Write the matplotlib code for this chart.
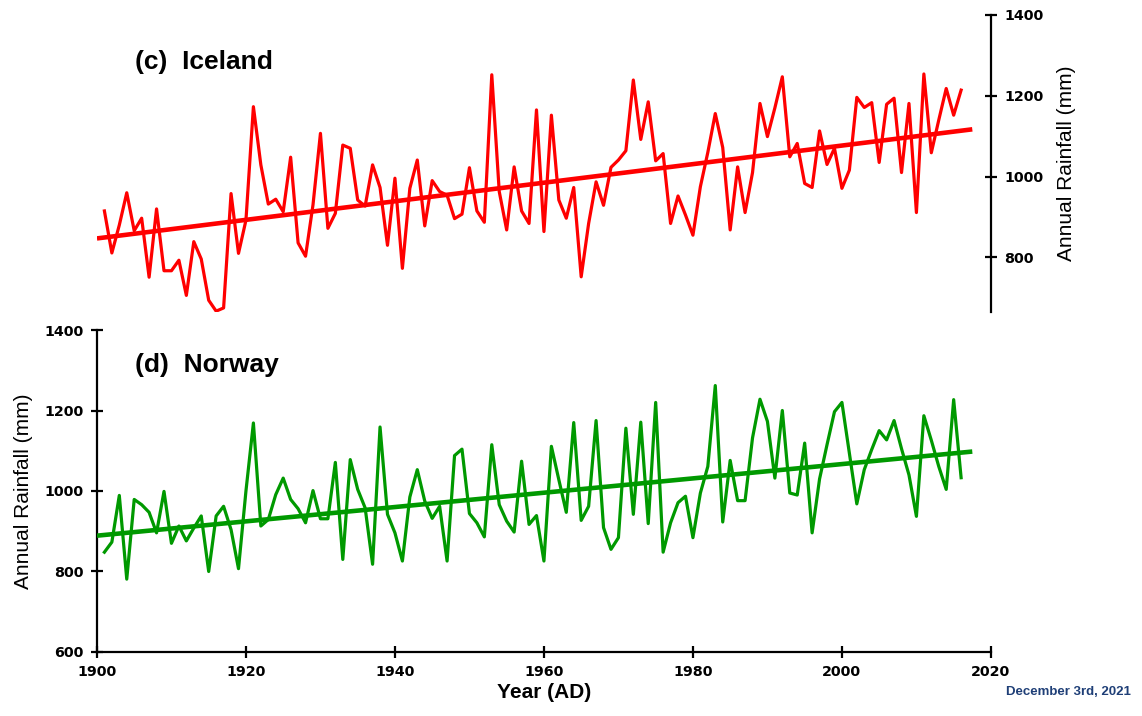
import numpy as np
import matplotlib
matplotlib.use("Agg")
import matplotlib.pyplot as plt

# Annual rainfall series, 1901-2016
years = list(range(1901, 2017))

iceland_mm = [
    915, 811, 880, 960, 866, 897, 751, 920, 767, 767,
    793, 706, 839, 796, 694, 667, 675, 958, 810, 892,
    1173, 1029, 932, 944, 913, 1048, 836, 803, 930, 1107,
    872, 909, 1078, 1070, 942, 927, 1029, 973, 830, 996,
    773, 971, 1041, 878, 990, 963, 954, 896, 907, 1022,
    915, 887, 1252, 963, 868, 1024, 915, 884, 1165, 864,
    1152, 942, 897, 973, 752, 884, 987, 929, 1023, 1041,
    1064, 1239, 1092, 1185, 1039, 1057, 884, 952, 905, 855,
    975, 1060, 1156, 1072, 868, 1024, 911, 1010, 1181, 1099,
    1170, 1247, 1049, 1082, 983, 973, 1113, 1030, 1070, 971,
    1016, 1196, 1171, 1183, 1035, 1179, 1194, 1010, 1181, 911,
    1254, 1059, 1140, 1218, 1152, 1214,
]

norway_mm = [
    848, 873, 989, 781, 979, 966, 947, 896, 999, 870,
    913, 876, 908, 938, 800, 938, 962, 904, 807, 1000,
    1169, 913, 929, 991, 1032, 979, 956, 921, 1001, 931,
    931, 1071, 830, 1078, 1004, 958, 818, 1159, 942, 896,
    826, 985, 1053, 975, 932, 962, 826, 1088, 1104, 944,
    921, 886, 1115, 966, 925, 898, 1074, 917, 939, 826,
    1111, 1028, 947, 1170, 927, 962, 1175, 909, 855, 884,
    1156, 942, 1171, 919, 1220, 848, 921, 971, 987, 884,
    995, 1061, 1262, 923, 1076, 976, 976, 1132, 1228, 1173,
    1032, 1200, 995, 990, 1119, 896, 1030, 1115, 1197, 1220,
    1094, 968, 1053, 1103, 1150, 1127, 1175, 1105, 1040, 937,
    1187, 1126, 1061, 1004, 1227, 1033,
]

# Linear trends: start and end values over trend_span
trend_span = [1900, 2017.5]
iceland_trend = [847, 1117]
norway_trend = [889, 1098]

year_ticks = [1900, 1920, 1940, 1960, 1980, 2000, 2020]
rain_ticks = [600, 800, 1000, 1200, 1400]

RED = "#FF0000"
GREEN = "#009900"
TICK_FONT = {"family": "DejaVu Sans", "weight": "bold", "size": 10.3}
LABEL_FONT = "Liberation Sans"

fig = plt.figure(figsize=(11.42, 7.16), dpi=100)
fig.patch.set_facecolor("white")

# ── (c) Iceland: right-hand axis only ───────────────────────────────────────
ax_top = fig.add_axes([0.0849, 0.5643, 0.7828, 0.4148])
ax_top.patch.set_alpha(0)
ax_top.plot(years, iceland_mm, color=RED, lw=2.3, zorder=2)
ax_top.plot(trend_span, iceland_trend, color=RED, lw=3.3,
            solid_capstyle="butt", zorder=3)

ax_top.set_xlim(1900, 2020)
ax_top.set_ylim(665, 1400)
for side in ["top", "left", "bottom"]:
    ax_top.spines[side].set_visible(False)
ax_top.spines["right"].set_linewidth(1.6)
ax_top.xaxis.set_visible(False)
ax_top.yaxis.tick_right()
ax_top.yaxis.set_label_position("right")
ax_top.set_yticks(rain_ticks[1:])
ax_top.set_yticklabels([str(v) for v in rain_ticks[1:]], fontdict=TICK_FONT)
ax_top.tick_params(axis="y", direction="inout", length=9, width=1.6, pad=5)
ax_top.set_ylabel("Annual Rainfall (mm)", family=LABEL_FONT, fontsize=15,
                  labelpad=10)

# ── (d) Norway: left and bottom axes ────────────────────────────────────────
ax_bot = fig.add_axes([0.0849, 0.0894, 0.7828, 0.4497])
ax_bot.plot(years, norway_mm, color=GREEN, lw=2.3, zorder=2)
ax_bot.plot(trend_span, norway_trend, color=GREEN, lw=3.3,
            solid_capstyle="butt", zorder=3)

ax_bot.set_xlim(1900, 2020)
ax_bot.set_ylim(600, 1400)
ax_bot.spines["top"].set_visible(False)
ax_bot.spines["right"].set_visible(False)
ax_bot.spines["left"].set_linewidth(1.6)
ax_bot.spines["bottom"].set_linewidth(1.6)
ax_bot.set_xticks(year_ticks)
ax_bot.set_xticklabels([str(v) for v in year_ticks], fontdict=TICK_FONT)
ax_bot.set_yticks(rain_ticks)
ax_bot.set_yticklabels([str(v) for v in rain_ticks], fontdict=TICK_FONT)
ax_bot.tick_params(direction="inout", length=9, width=1.6, pad=5)
ax_bot.set_ylabel("Annual Rainfall (mm)", family=LABEL_FONT, fontsize=15,
                  labelpad=8)
ax_bot.set_xlabel("Year (AD)", family=LABEL_FONT, fontsize=15,
                  fontweight="bold", labelpad=3)

# Panel titles and date stamp
fig.text(0.118, 0.913, "(c)  Iceland", fontsize=19, fontweight="bold",
         family=LABEL_FONT, va="center", ha="left")
fig.text(0.118, 0.490, "(d)  Norway", fontsize=19, fontweight="bold",
         family=LABEL_FONT, va="center", ha="left")
fig.text(0.990, 0.033, "December 3rd, 2021", fontsize=9.5, fontweight="bold",
         family=LABEL_FONT, color="#1F3F77", ha="right", va="center")

plt.savefig("out.png", dpi=100, facecolor="white")
plt.close()
